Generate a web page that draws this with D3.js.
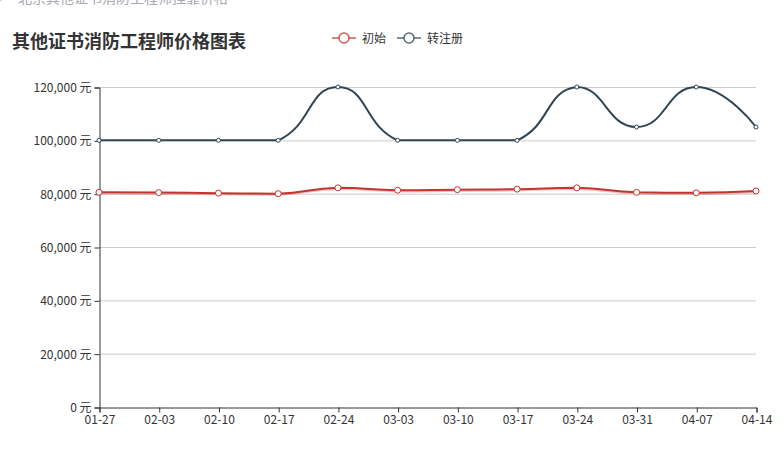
<!DOCTYPE html>
<html>
<head>
<meta charset="utf-8">
<script src="https://d3js.org/d3.v7.min.js"></script>
<style>
  body { margin: 0; background: #fff; }
  text { font-family: "Noto Sans CJK SC", "Noto Sans", sans-serif; }
</style>
</head>
<body>
<svg width="784" height="454"></svg>
<script>
  // data
  var dates = ["01-27","02-03","02-10","02-17","02-24","03-03","03-10","03-17","03-24","03-31","04-07","04-14"];
  var chushi = [80500, 80400, 80200, 80000, 82200, 81300, 81500, 81700, 82200, 80500, 80300, 81000];
  var zhuanzhuce = [100000, 100000, 100000, 100000, 120000, 100000, 100000, 100000, 120000, 105000, 120000, 105000];
  var yTicks = [0, 20000, 40000, 60000, 80000, 100000, 120000];
  var seriesNames = ["初始", "转注册"];
  var colors = ["#c23531", "#2f4554"];

  var svg = d3.select("svg"),
    width = +svg.attr("width"),
    height = +svg.attr("height");
  var plotLeft = 99, plotRight = 756, plotTop = 87, plotBottom = 407;

  var xscale = d3.scalePoint().domain(dates).range([plotLeft, plotRight]);
  var yscale = d3.scaleLinear().domain([0, 120000]).range([plotBottom, plotTop]);

  // cut-off breadcrumb at the very top
  var crumb = svg.append("text")
    .attr("y", 3)
    .attr("fill", "#a9a9b3")
    .style("font-size", "14px");
  crumb.append("tspan").attr("x", -1).text(">");
  crumb.append("tspan").attr("x", 18).text("北京其他证书消防工程师挂靠价格");

  // title
  svg.append("text")
    .attr("x", 12).attr("y", 48)
    .attr("fill", "#333")
    .style("font-size", "18px")
    .style("font-weight", "bold")
    .text("其他证书消防工程师价格图表");

  // grid
  svg.append("g").selectAll("line")
    .data(yTicks.slice(1)).enter().append("line")
    .attr("x1", plotLeft).attr("x2", plotRight)
    .attr("y1", function(d){ return yscale(d) + 0.5 })
    .attr("y2", function(d){ return yscale(d) + 0.5 })
    .attr("stroke", "#ccc");

  // y axis
  var yAxis = d3.axisLeft(yscale).tickValues(yTicks).tickSizeOuter(0).tickSize(5).tickPadding(3)
    .tickFormat(function(d){ return d3.format(",")(d) + " 元" });
  var gy = svg.append("g").attr("transform", "translate(" + (plotLeft + 0.5) + ",0.5)").call(yAxis);
  gy.select(".domain").attr("stroke", "#333");
  gy.selectAll(".tick line").attr("stroke", "#333");
  gy.selectAll(".tick text").attr("fill", "#333").style("font-size", "12px").style("font-family", "'Noto Sans CJK SC', sans-serif");

  // x axis
  var xAxis = d3.axisBottom(xscale).tickSizeOuter(0).tickSize(5).tickPadding(3);
  var gx = svg.append("g").attr("transform", "translate(0.5," + (plotBottom + 0.5) + ")").call(xAxis);
  gx.select(".domain").attr("stroke", "#333");
  gx.selectAll(".tick line").attr("stroke", "#333");
  gx.selectAll(".tick text").attr("fill", "#333").style("font-size", "12px").style("font-family", "'Noto Sans CJK SC', sans-serif");

  // echarts-like smooth line: bezier with control points clamped to each segment
  function smoothPath(pts) {
    var p = d3.path(), s = 0.5;
    p.moveTo(pts[0][0], pts[0][1]);
    var cp0 = pts[0].slice();
    for (var i = 1; i < pts.length; i++) {
      var prev = pts[i - 1], cur = pts[i], next = pts[i + 1];
      if (next) {
        var vx = next[0] - prev[0], vy = next[1] - prev[1];
        var l0 = Math.hypot(cur[0] - prev[0], cur[1] - prev[1]);
        var l1 = Math.hypot(next[0] - cur[0], next[1] - cur[1]);
        var r = l1 / (l0 + l1);
        var cp1 = [cur[0] - vx * s * (1 - r), cur[1] - vy * s * (1 - r)];
        var ncp = [cur[0] + vx * s * r, cur[1] + vy * s * r];
        cp1[0] = Math.max(Math.min(cp1[0], Math.max(prev[0], cur[0])), Math.min(prev[0], cur[0]));
        cp1[1] = Math.max(Math.min(cp1[1], Math.max(prev[1], cur[1])), Math.min(prev[1], cur[1]));
        ncp[0] = Math.max(Math.min(ncp[0], Math.max(next[0], cur[0])), Math.min(next[0], cur[0]));
        ncp[1] = Math.max(Math.min(ncp[1], Math.max(next[1], cur[1])), Math.min(next[1], cur[1]));
        p.bezierCurveTo(cp0[0], cp0[1], cp1[0], cp1[1], cur[0], cur[1]);
        cp0 = ncp;
      } else {
        p.bezierCurveTo(cp0[0], cp0[1], cur[0], cur[1], cur[0], cur[1]);
      }
    }
    return p.toString();
  }

  var allSeries = [chushi, zhuanzhuce];
  var radius = [3, 2];

  allSeries.forEach(function(vals, k) {
    var g = svg.append("g");
    var pts = vals.map(function(v, i){ return [xscale(dates[i]), yscale(v)] });
    if (k === 0) {
      g.append("path")
        .attr("d", smoothPath(pts.map(function(q){ return [q[0], q[1] + 1.2] })))
        .attr("fill", "none").attr("stroke", colors[k]).attr("stroke-opacity", 0.3).attr("stroke-width", 2);
    }
    g.append("path")
      .attr("d", smoothPath(pts))
      .attr("fill", "none")
      .attr("stroke", colors[k])
      .attr("stroke-width", 2);
    g.selectAll("circle")
      .data(vals).enter().append("circle")
      .attr("cx", function(d, i){ return xscale(dates[i]) })
      .attr("cy", function(d){ return yscale(d) })
      .attr("r", radius[k])
      .attr("fill", "#fff")
      .attr("stroke", colors[k])
      .attr("stroke-width", 1);
  });

  // legend
  var legendX = [332, 397];
  seriesNames.forEach(function(name, k) {
    var lg = svg.append("g").attr("transform", "translate(" + legendX[k] + ",38)");
    lg.append("line").attr("x1", 0).attr("x2", 24).attr("y1", 0).attr("y2", 0)
      .attr("stroke", colors[k]).attr("stroke-opacity", 0.8).attr("stroke-width", 1.5);
    lg.append("circle").attr("cx", 12).attr("cy", 0).attr("r", 5)
      .attr("fill", "#fff").attr("stroke", colors[k]).attr("stroke-opacity", 0.8).attr("stroke-width", 1.5);
    lg.append("text").attr("x", 30).attr("y", 4.5)
      .attr("fill", "#333").style("font-size", "12px").text(name);
  });
</script>
</body>
</html>
